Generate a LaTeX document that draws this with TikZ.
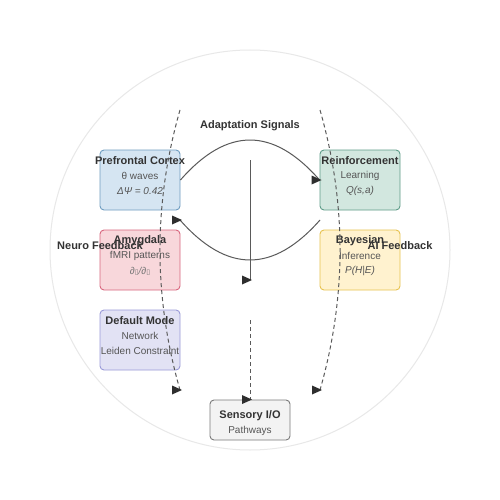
\documentclass[tikz,border=0pt]{standalone}
\usepackage{fontspec}
\setmainfont{Liberation Sans}
\newfontfamily\symfont{DejaVu Sans}
\definecolor{txt}{HTML}{333333}
\definecolor{sub}{HTML}{555555}
\definecolor{ln}{HTML}{5A5A5A}
\definecolor{tipcol}{HTML}{2E2E2E}
\definecolor{pfcF}{HTML}{D5E5F2}\definecolor{pfcD}{HTML}{6F9DC0}
\definecolor{amyF}{HTML}{F8D7DB}\definecolor{amyD}{HTML}{D8667E}
\definecolor{dmnF}{HTML}{E2E2F4}\definecolor{dmnD}{HTML}{9A9AD8}
\definecolor{rlF}{HTML}{D2E7DF}\definecolor{rlD}{HTML}{5E9C88}
\definecolor{bayF}{HTML}{FFF2CF}\definecolor{bayD}{HTML}{E7C24F}
\definecolor{senF}{HTML}{F3F3F3}\definecolor{senD}{HTML}{7A7A7A}
\tikzset{
  box/.style={draw, rounded corners=4pt, line width=0.9pt, minimum width=80pt, minimum height=60pt, inner sep=0pt},
  ttl/.style={font=\fontsize{11}{11}\selectfont\bfseries, text=txt, inner sep=0pt},
  lin/.style={font=\fontsize{10}{10}\selectfont, text=sub, inner sep=0pt},
  itl/.style={font=\fontsize{10}{10}\selectfont\itshape, text=sub, inner sep=0pt},
  lbl/.style={font=\fontsize{11}{11}\selectfont\bfseries, text=txt, inner sep=0pt},
  solidc/.style={draw=ln, line width=1pt},
  dashc/.style={draw=ln, line width=1pt, dash pattern=on 4pt off 3pt},
  marker/.style={fill=tipcol},
}
\newcommand{\rmark}[1]{\fill[marker, shift={(#1)}] (2,0) -- (-8,-4.5) -- (-8,4.5) -- cycle;}
\begin{document}
\begin{tikzpicture}[x=1pt,y=-1pt]
\useasboundingbox (0,0) rectangle (500,500);
\fill[white] (0,0) rectangle (500,500);
\draw[color=black!9, line width=1pt] (250,250) circle (200);
% boxes
\node[box, fill=pfcF, draw=pfcD] (pfc) at (140,180) {};
\node[box, fill=amyF, draw=amyD] (amy) at (140,260) {};
\node[box, fill=dmnF, draw=dmnD] (dmn) at (140,340) {};
\node[box, fill=rlF, draw=rlD] (rl) at (360,180) {};
\node[box, fill=bayF, draw=bayD] (bay) at (360,260) {};
\node[box, fill=senF, draw=senD, minimum height=40pt] (sen) at (250,420) {};
% texts
\node[ttl] (pfc1) at (140,161) {Prefrontal Cortex};
\node[lin] (pfc2) at (140,176) {θ waves};
\node[itl] (pfc3) at (140,191) {ΔΨ = 0.42};
\node[ttl] (amy1) at (140,241) {Amygdala};
\node[lin] (amy2) at (140,256) {fMRI patterns};
\node[itl, text=sub!80] (amy3) at (140,271) {∂{\symfont\fontsize{7}{7}\selectfont ▯}/∂{\symfont\fontsize{7}{7}\selectfont ▯}};
\node[ttl] (dmn1) at (140,321) {Default Mode};
\node[lin] (dmn2) at (140,336) {Network};
\node[lin] (dmn3) at (140,351) {Leiden Constraint};
\node[ttl] (rl1) at (360,161) {Reinforcement};
\node[lin] (rl2) at (360,176) {Learning};
\node[itl] (rl3) at (360,191) {Q(s,a)};
\node[ttl] (bay1) at (360,241) {Bayesian};
\node[lin] (bay2) at (360,256) {Inference};
\node[itl] (bay3) at (360,271) {P(H|E)};
\node[ttl] (sen1) at (250,416) {Sensory I/O};
\node[lin] (sen2) at (250,431) {Pathways};
% coordinates
\coordinate (c1) at (320,220);
\coordinate (c2) at (180,220);
\coordinate (v1) at (250,160);
\coordinate (v2) at (250,280);
\coordinate (dl1) at (180,110);
\coordinate (dl2) at (180,390);
\coordinate (dr1) at (320,110);
\coordinate (dr2) at (320,390);
\coordinate (dv1) at (250,320);
% connectors
\draw[solidc] (pfc.east) .. controls (227,126.7) and (273,126.7) .. (rl.west);
\draw[solidc] (c1) .. controls (273,273.3) and (227,273.3) .. (c2);
\draw[solidc] (v1) -- (v2);
\draw[dashc] (dl1) .. controls (153.3,203.3) and (153.3,296.7) .. (dl2);
\draw[dashc] (dr1) .. controls (346.7,203.3) and (346.7,296.7) .. (dr2);
\draw[dashc] (dv1) -- (sen.north);
% unoriented markers at the connector ends
\rmark{rl.west}
\rmark{c2}
\rmark{v2}
\rmark{dl2}
\rmark{dr2}
\rmark{sen.north}
% labels
\node[lbl] (adapt) at (250,126) {Adaptation Signals};
\node[lbl] (neuro) at (100,246) {Neuro Feedback};
\node[lbl] (aifb) at (400,246) {AI Feedback};
\end{tikzpicture}
\end{document}
